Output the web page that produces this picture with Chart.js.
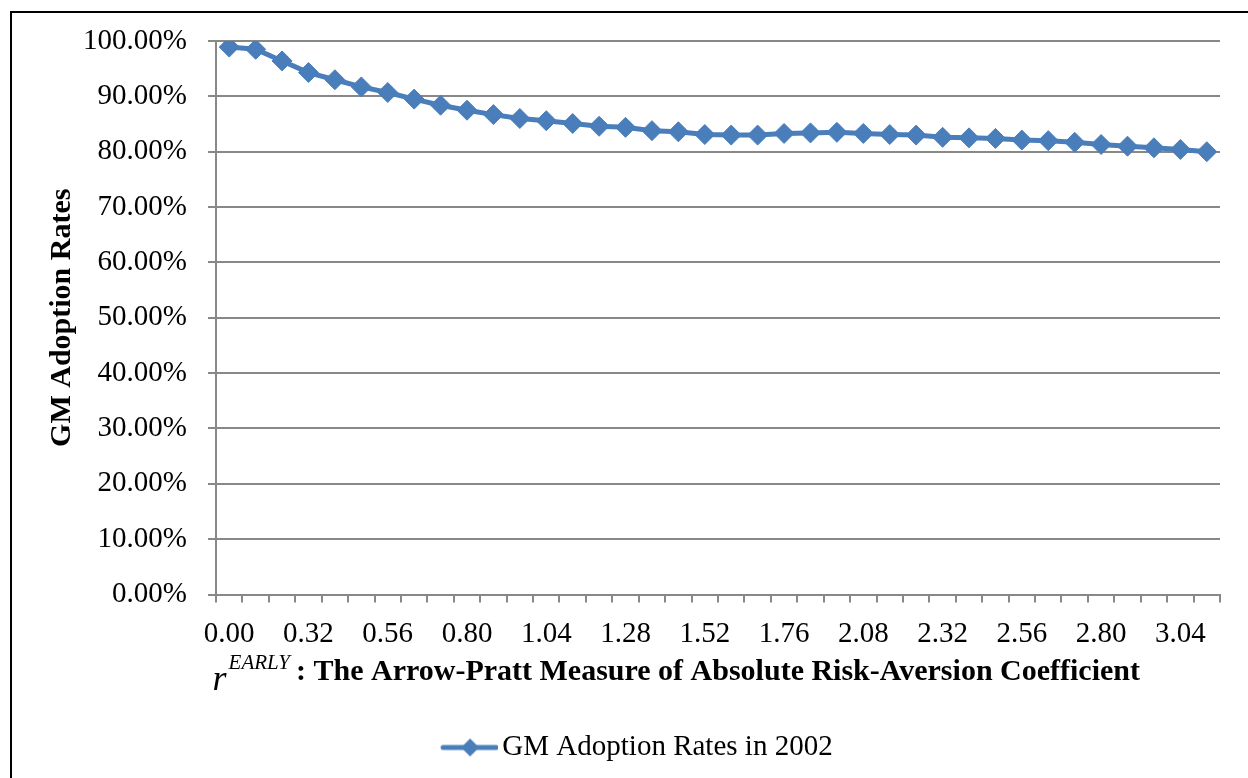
<!DOCTYPE html>
<html>
<head>
<meta charset="utf-8">
<script src="https://cdn.jsdelivr.net/npm/chart.js@4.4.0/dist/chart.umd.min.js"></script>
<style>
  html, body { margin: 0; padding: 0; background: #fff; overflow: hidden; }
  #wrap { position: relative; width: 1248px; height: 778px; }
  #frame { position: absolute; left: 10px; top: 11px; width: 1300px; height: 900px;
           border-left: 2px solid #000; border-top: 2px solid #000; pointer-events: none; }
</style>
</head>
<body>
<div id="wrap">
  <canvas id="chart" width="1248" height="778"></canvas>
  <div id="frame"></div>
</div>
<script>
// r (risk aversion coefficient) categories
const riskAversion = [
  "0.00", "0.16", "0.24", "0.32", "0.40", "0.48", "0.56", "0.64", "0.72", "0.80",
  "0.88", "0.96", "1.04", "1.12", "1.20", "1.28", "1.36", "1.44", "1.52", "1.60",
  "1.68", "1.76", "1.84", "2.00", "2.08", "2.16", "2.24", "2.32", "2.40", "2.48",
  "2.56", "2.64", "2.72", "2.80", "2.88", "2.96", "3.04", "3.12"
];

// GM adoption rates in 2002 (%)
const adoption2002 = [
  98.9, 98.5, 96.4, 94.3, 93.0, 91.7, 90.7, 89.5, 88.4, 87.5,
  86.7, 86.0, 85.6, 85.1, 84.6, 84.4, 83.8, 83.6, 83.1, 83.0,
  83.0, 83.3, 83.4, 83.5, 83.3, 83.1, 83.0, 82.6, 82.5, 82.4,
  82.1, 82.0, 81.7, 81.3, 81.0, 80.7, 80.4, 80.0
];

const BLUE = "#4a7ebb";
const GRID = "#888888";
const SERIF = "'Liberation Serif', 'Times New Roman', serif";

// legend marker: line with a diamond in the middle
const marker = document.createElement("canvas");
marker.width = 107;
marker.height = 22;
(function () {
  const m = marker.getContext("2d");
  m.strokeStyle = BLUE;
  m.fillStyle = BLUE;
  m.lineWidth = 5;
  m.lineCap = "round";
  m.beginPath();
  m.moveTo(52, 11);
  m.lineTo(105, 11);
  m.stroke();
  m.beginPath();
  m.moveTo(79, 2);
  m.lineTo(88, 11);
  m.lineTo(79, 20);
  m.lineTo(70, 11);
  m.closePath();
  m.fill();
})();

// the italic "r" with superscript EARLY in front of the x axis title
const rEarly = {
  id: "rEarly",
  afterDraw(chart) {
    const x = chart.scales.x;
    const c = chart.ctx;
    c.save();
    c.font = "bold 30px " + SERIF;
    const w = c.measureText(x.options.title.text).width;
    const left = (x.left + x.right) / 2 - w / 2;
    c.fillStyle = "#000";
    c.textAlign = "right";
    c.textBaseline = "alphabetic";
    c.font = "italic 21px " + SERIF;
    c.fillText("EARLY", left - 6, 669);
    const ew = c.measureText("EARLY").width;
    c.font = "italic 36px " + SERIF;
    c.fillText("r", left - 8 - ew, 690);
    c.restore();
  }
};

const ctx = document.getElementById("chart").getContext("2d");

const chart = new Chart(ctx, {
  type: "line",
  data: {
    labels: riskAversion,
    datasets: [
      {
        label: "GM Adoption Rates in 2002",
        data: adoption2002,
        borderColor: BLUE,
        backgroundColor: BLUE,
        borderWidth: 5,
        pointStyle: "rectRot",
        pointRadius: 10,
        pointHoverRadius: 10,
        pointBorderWidth: 1,
        tension: 0,
      },
    ],
  },
  options: {
    responsive: false,
    animation: false,
    layout: { padding: { left: 14, right: 28, top: 41, bottom: 6 } },
    scales: {
      x: {
        offset: true,
        grid: { offset: true, drawOnChartArea: false, tickLength: 8, color: GRID, lineWidth: 2 },
        border: { color: GRID, width: 2 },
        ticks: {
          autoSkip: false,
          maxRotation: 0,
          padding: 14,
          color: "#000",
          font: { family: SERIF, size: 29, lineHeight: 1.2 },
          callback: function (v, i) {
            return i % 3 === 0 ? this.getLabelForValue(v) : "";
          },
        },
        title: {
          display: true,
          text: ": The Arrow-Pratt Measure of Absolute Risk-Aversion Coefficient",
          color: "#000",
          font: { family: SERIF, size: 30, weight: "bold", lineHeight: 1.2 },
          padding: { top: 0, bottom: 34 },
        },
        afterFit(scale) {
          scale.height = 130;
        },
      },
      y: {
        min: 0,
        max: 100,
        grid: { color: GRID, lineWidth: 2, tickLength: 8 },
        border: { color: GRID, width: 2 },
        ticks: {
          stepSize: 10,
          padding: 21,
          color: "#000",
          font: { family: SERIF, size: 29, lineHeight: 1.2 },
          callback: (v) => v.toFixed(2) + "%",
        },
        title: {
          display: true,
          text: "GM Adoption Rates",
          color: "#000",
          font: { family: SERIF, size: 30, weight: "bold", lineHeight: 1.2 },
          padding: { top: 30, bottom: 0 },
        },
        afterFit(scale) {
          scale.width = 202;
        },
      },
    },
    plugins: {
      tooltip: { enabled: false },
      legend: {
        position: "bottom",
        labels: {
          usePointStyle: true,
          pointStyleWidth: 86.5,
          padding: 8.5,
          color: "#000",
          font: { family: SERIF, size: 29 },
          generateLabels(chart) {
            const items = Chart.defaults.plugins.legend.labels.generateLabels(chart);
            items.forEach((it) => { it.pointStyle = marker; });
            return items;
          },
        },
      },
    },
  },
  plugins: [rEarly],
});
</script>
</body>
</html>
